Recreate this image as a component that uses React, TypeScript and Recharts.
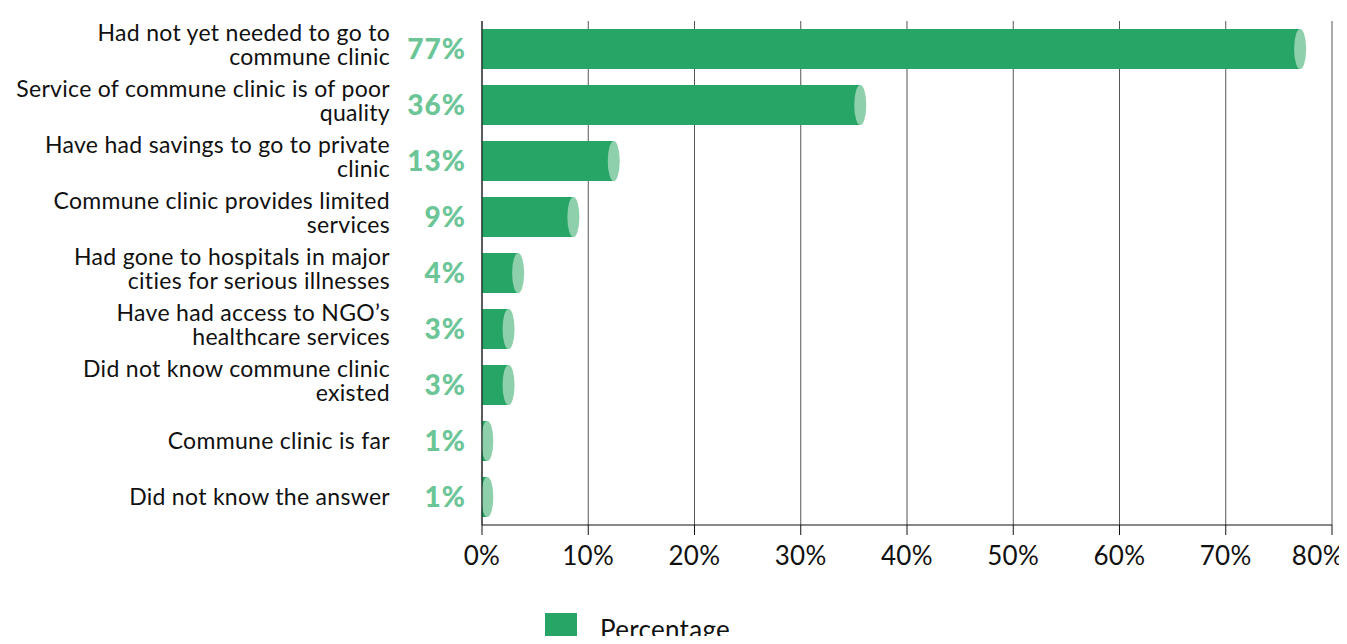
import React from "react";
import {
  Bar,
  BarChart,
  CartesianGrid,
  LabelList,
  Legend,
  XAxis,
  YAxis,
} from "recharts";

const categories = [
  "Had not yet needed to go to\ncommune clinic",
  "Service of commune clinic is of poor\nquality",
  "Have had savings to go to private\nclinic",
  "Commune clinic provides limited\nservices",
  "Had gone to hospitals in major\ncities for serious illnesses",
  "Have had access to NGO’s\nhealthcare services",
  "Did not know commune clinic\nexisted",
  "Commune clinic is far",
  "Did not know the answer",
];
const values = [77, 35.6, 12.4, 8.6, 3.4, 2.5, 2.5, 0.5, 0.5];
const valueLabels = ["77%", "36%", "13%", "9%", "4%", "3%", "3%", "1%", "1%"];
const xTicks = [0, 10, 20, 30, 40, 50, 60, 70, 80];
const bandEdges = [0, 1, 2, 3, 4, 5, 6, 7, 8, 9];

const data = categories.map((name, i) => ({
  name,
  value: values[i],
  label: valueLabels[i],
}));

const FONT = "Lato, 'Open Sans', sans-serif";
const GREEN = "#27a567";
const CAP = "#8dd0ab";
const LABEL_GREEN = "#6cc596";

const CylinderBar = (props: any) => {
  const { x, y, width, height } = props;
  return (
    <g>
      <rect x={x} y={y} width={width} height={height} fill={GREEN} />
      <ellipse cx={x + width} cy={y + height / 2} rx={6} ry={height / 2} fill={CAP} />
    </g>
  );
};

const CategoryTick = (props: any) => {
  const { x, y, payload } = props;
  const lines = String(payload.value).split("\n");
  const lh = 24;
  const start = y - ((lines.length - 1) * lh) / 2 - (lines.length > 1 ? 4 : 0);
  return (
    <text textAnchor="end" fontFamily={FONT} fontSize={23} letterSpacing={0.3} fill="#111">
      {lines.map((l, i) => (
        <tspan key={i} x={x} y={start + i * lh} dy="0.35em">
          {l}
        </tspan>
      ))}
    </text>
  );
};

// last label is pulled in so it stays on the page, like the original
const PercentTick = (props: any) => {
  const { x, y, payload } = props;
  const last = payload.value === xTicks[xTicks.length - 1];
  return (
    <text
      x={last ? x + 12 : x}
      y={y}
      dy="0.71em"
      textAnchor={last ? "end" : "middle"}
      fontFamily={FONT}
      fontSize={26}
      letterSpacing={0.4}
      fill="#111"
    >
      {`${payload.value}%`}
    </text>
  );
};

const ValueLabel = (props: any) => {
  const { x, y, height, value } = props;
  return (
    <text
      x={x - 16}
      y={y + height / 2}
      dy="0.35em"
      textAnchor="end"
      fontFamily={FONT}
      fontWeight={900}
      fontSize={28}
      letterSpacing={1}
      fill={LABEL_GREEN}
    >
      {value}
    </text>
  );
};

const LegendBox = () => (
  <div style={{ display: "flex", alignItems: "center", fontFamily: FONT }}>
    <span style={{ width: 32, height: 32, background: GREEN, display: "inline-block" }} />
    <span style={{ marginLeft: 23, fontSize: 26, letterSpacing: 0.3, color: "#111" }}>
      Percentage
    </span>
  </div>
);

export default function App() {
  // the original is cropped just under the legend; negative margin keeps the page from scrolling
  return (
    <div style={{ width: 1339, height: 636, marginBottom: -8, overflow: "hidden" }}>
      <BarChart
        width={1339}
        height={636}
        data={data}
        layout="vertical"
        barCategoryGap={8}
        margin={{ top: 13, right: 15, left: 0, bottom: 79 }}
      >
        <CartesianGrid horizontal={false} stroke="#555" strokeWidth={1} yAxisId="z_cat" />
        <XAxis
          type="number"
          domain={[0, 80]}
          ticks={xTicks}
          stroke="#111"
          tickSize={10}
          tickMargin={12}
          height={40}
          tick={(p: any) => <PercentTick {...p} />}
        />
        <YAxis
          yAxisId="a_edges"
          type="number"
          domain={[0, 9]}
          ticks={bandEdges}
          tick={false}
          tickSize={10}
          width={10}
          stroke="#111"
        />
        <YAxis
          yAxisId="z_cat"
          type="category"
          dataKey="name"
          width={464}
          axisLine={false}
          tickLine={false}
          tickSize={0}
          tickMargin={82}
          interval={0}
          tick={<CategoryTick />}
        />
        <Legend
          layout="horizontal"
          verticalAlign="middle"
          align="center"
          content={<LegendBox />}
          wrapperStyle={{ left: 537, top: 605, width: 300 }}
        />
        <Bar
          yAxisId="z_cat"
          dataKey="value"
          name="Percentage"
          fill={GREEN}
          shape={<CylinderBar />}
          isAnimationActive={false}
        >
          <LabelList dataKey="label" content={<ValueLabel />} />
        </Bar>
      </BarChart>
    </div>
  );
}
